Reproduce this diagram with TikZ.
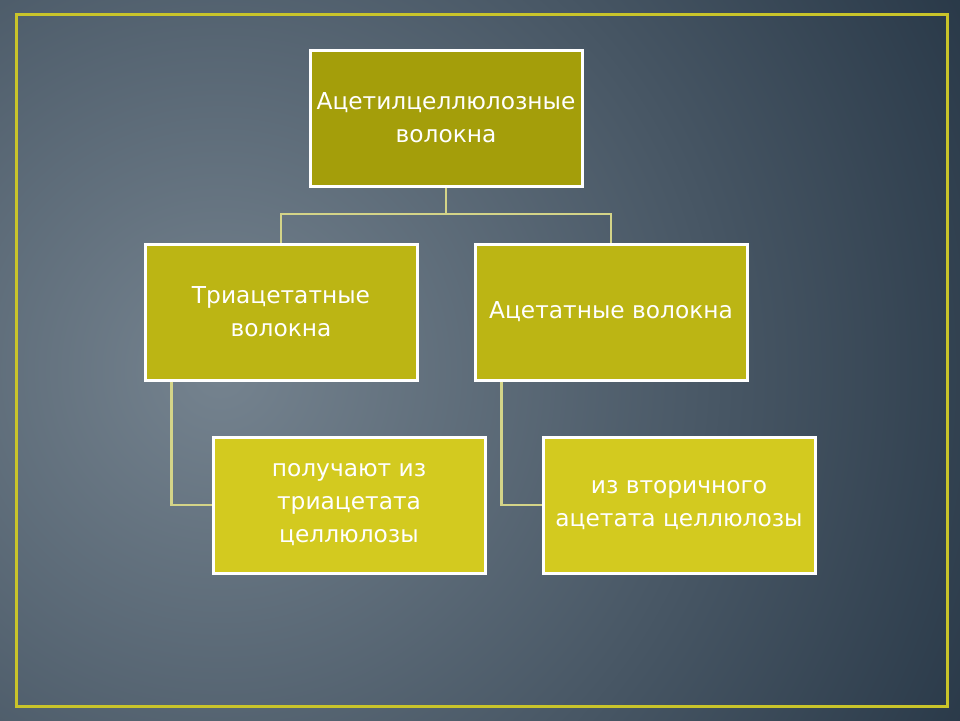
\documentclass[tikz,border=0pt]{standalone}
\usepackage{fontspec}
\setmainfont{DejaVu Sans}
\definecolor{bglight}{HTML}{75838F}
\definecolor{bgdark}{HTML}{1A2A3A}
\definecolor{frameY}{HTML}{C9C42A}
\definecolor{linkY}{HTML}{D4D488}
\definecolor{boxA}{HTML}{A49E0A}
\definecolor{boxB}{HTML}{BCB514}
\definecolor{boxC}{HTML}{D3CA1F}
\tikzset{
  box/.style={draw=white, line width=3pt, minimum width=272pt, minimum height=136pt,
    inner sep=0pt, align=center, text=white, font=\fontsize{23.3}{33}\selectfont},
  link/.style={draw=linkY, line width=2.5pt}
}
\begin{document}
\begin{tikzpicture}[x=1pt,y=-1pt]
\useasboundingbox (0,0) rectangle (960,720);
\begin{scope}
\clip (0,0) rectangle (960,720);
\fill[bgdark] (0,0) rectangle (960,720);
\shade[inner color=bglight, outer color=bgdark] (220,370) circle (1000);
\end{scope}
\draw[frameY, line width=3pt] (16,14) rectangle (947,706);
\node[box, fill=boxA] (top) at (446,118) {Ацетилцеллюлозные\\волокна};
\node[box, fill=boxB] (ml) at (281,312) {Триацетатные\\волокна};
\node[box, fill=boxB] (mr) at (611,312) {Ацетатные волокна};
\node[box, fill=boxC] (bl) at (349,505) {получают из\\триацетата\\целлюлозы};
\node[box, fill=boxC] (br) at (679,505) {из вторичного\\ацетата целлюлозы};
\coordinate (j) at (446,214);
\draw[link] (top.south) -- (j);
\draw[link] (j) -| (ml.north);
\draw[link] (j) -| (mr.north);
\draw[link] ([xshift=28pt]ml.south west) |- (bl.west);
\draw[link] ([xshift=28pt]mr.south west) |- (br.west);
\end{tikzpicture}
\end{document}
